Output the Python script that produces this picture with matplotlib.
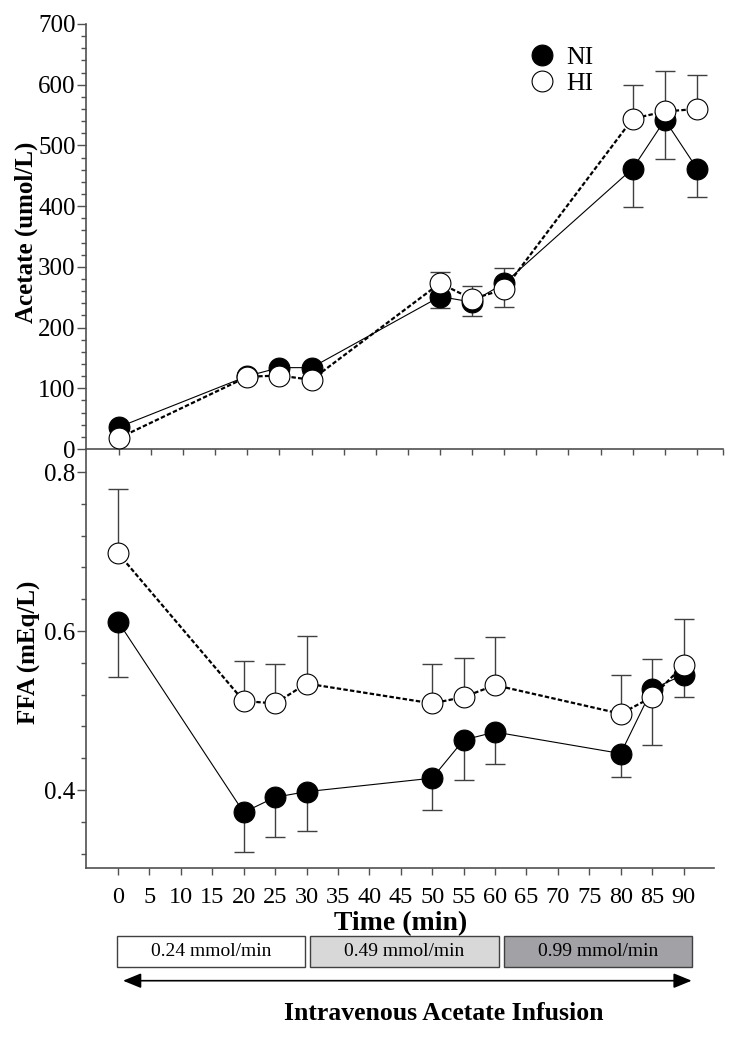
import matplotlib
matplotlib.use('Agg')
import matplotlib.pyplot as plt
from matplotlib.ticker import MultipleLocator, FixedLocator, FixedFormatter
from matplotlib.lines import Line2D
from matplotlib.patches import Rectangle, FancyArrowPatch

plt.rcParams['font.family'] = ['Liberation Serif', 'DejaVu Serif']

# ---------------- data ----------------
time_min = [0, 20, 25, 30, 50, 55, 60, 80, 85, 90]

acetate_ni = [36, 120, 134, 134, 251, 242, 273, 462, 542, 462]
acetate_ni_err = [5, 6, 8, 8, 19, 23, 39, 64, 64, 47]      # lower SE
acetate_hi = [18, 119, 121, 114, 273, 247, 263, 544, 556, 560]
acetate_hi_err = [5, 6, 6, 6, 19, 21, 35, 55, 67, 56]      # upper SE

ffa_ni = [0.612, 0.372, 0.391, 0.398, 0.415, 0.463, 0.473, 0.446, 0.527, 0.545]
ffa_ni_err = [0.070, 0.050, 0.050, 0.050, 0.040, 0.050, 0.040, 0.029, 0.070, 0.028]
ffa_hi = [0.698, 0.512, 0.509, 0.534, 0.509, 0.517, 0.532, 0.496, 0.517, 0.557]
ffa_hi_err = [0.081, 0.050, 0.050, 0.060, 0.049, 0.049, 0.060, 0.049, 0.048, 0.058]

group_labels = ['NI', 'HI']
xtick_values = list(range(0, 100, 5))
xtick_labels = [str(v) for v in range(0, 95, 5)] + ['']
infusion_rates = ['0.24 mmol/min', '0.49 mmol/min', '0.99 mmol/min']
infusion_colors = ['#ffffff', '#d8d8d8', '#a2a2a6']

# ---------------- layout ----------------
W, H = 739, 1038
fig = plt.figure(figsize=(W / 100, H / 100), dpi=100)


def fx(px):
    return px / W


def fy(py):
    return 1 - py / H


ax2 = fig.add_axes([fx(86), fy(868), fx(714.3) - fx(86), fy(449) - fy(868)])
ax1 = fig.add_axes([fx(86), fy(449), fx(723) - fx(86), fy(24) - fy(449)])
ax2.patch.set_visible(False)
ax1.patch.set_visible(False)
ax1.set_zorder(3)

SPINE = '#505050'
ERR = '#404040'
MS = 15


def draw(ax, x, ni, ni_err, hi, hi_err):
    z = [0] * len(x)
    ax.errorbar(x, ni, yerr=[ni_err, z], fmt='none', ecolor=ERR, elinewidth=1.0,
                capsize=7.2, capthick=1.0, zorder=1)
    ax.errorbar(x, hi, yerr=[z, hi_err], fmt='none', ecolor=ERR, elinewidth=1.0,
                capsize=7.2, capthick=1.0, zorder=1)
    ax.plot(x, ni, '-', color='black', lw=0.8, zorder=2)
    ax.plot(x, ni, 'o', ls='none', ms=MS, mfc='black', mec='black', mew=0.8, zorder=3)
    ax.plot(x, hi, '-', color='black', lw=1.6, dashes=(2, 1), zorder=4)
    ax.plot(x, hi, 'o', ls='none', ms=MS, mfc='white', mec='black', mew=0.8, zorder=5)


draw(ax1, time_min, acetate_ni, acetate_ni_err, acetate_hi, acetate_hi_err)
draw(ax2, time_min, ffa_ni, ffa_ni_err, ffa_hi, ffa_hi_err)

for ax in (ax1, ax2):
    for s in ('top', 'right'):
        ax.spines[s].set_visible(False)
    for s in ('left', 'bottom'):
        ax.spines[s].set_color(SPINE)
        ax.spines[s].set_linewidth(1.2)
    ax.tick_params(which='both', color=SPINE, width=1.0, direction='out')
    ax.tick_params(axis='y', which='major', length=6.5, pad=1, labelsize=18)
    ax.tick_params(axis='y', which='minor', length=3.8)

# top panel
ax1.set_xlim(-5.1, 94.05)
ax1.set_ylim(0, 700)
ax1.xaxis.set_major_locator(FixedLocator(list(range(0, 95, 5)) + [94.05]))
ax1.tick_params(axis='x', length=4.5, labelbottom=False)
ax1.yaxis.set_major_locator(MultipleLocator(100))
ax1.yaxis.set_minor_locator(MultipleLocator(20))

# bottom panel
ax2.set_xlim(-5.1, 94.9)
ax2.set_ylim(0.302, 0.829)
ax2.xaxis.set_major_locator(FixedLocator(xtick_values))
ax2.xaxis.set_major_formatter(FixedFormatter(xtick_labels))
ax2.tick_params(axis='x', length=5, pad=9, labelsize=17.5)
ax2.yaxis.set_major_locator(FixedLocator([0.4, 0.6, 0.8]))
ax2.yaxis.set_major_formatter(FixedFormatter(['0.4', '0.6', '0.8']))
ax2.yaxis.set_minor_locator(MultipleLocator(0.04))

# axis titles
fig.text(fx(26), fy(232), 'Acetate (umol/L)', rotation=90, ha='center', va='center',
         fontsize=18, fontweight='bold')
fig.text(fx(29), fy(652), 'FFA (mEq/L)', rotation=90, ha='center', va='center',
         fontsize=18, fontweight='bold')
fig.text(fx(401), fy(924), 'Time (min)', ha='center', va='center',
         fontsize=20, fontweight='bold')

# legend
handles = [Line2D([], [], marker='o', ls='none', ms=MS, mfc='black', mec='black', mew=0.8),
           Line2D([], [], marker='o', ls='none', ms=MS, mfc='white', mec='black', mew=0.8)]
ax1.legend(handles, group_labels, loc='upper left',
           bbox_to_anchor=(fx(529), fy(46)), bbox_transform=fig.transFigure,
           frameon=False, fontsize=18.5, handlelength=1.0, handletextpad=0.45,
           labelspacing=0.12, borderpad=0, borderaxespad=0)

# infusion boxes
box_x = [(116.7, 305), (310, 499), (504, 691.7)]
for (x0, x1), lab, col in zip(box_x, infusion_rates, infusion_colors):
    fig.patches.append(Rectangle((fx(x0), fy(967)), fx(x1) - fx(x0), fy(936) - fy(967),
                                 transform=fig.transFigure, facecolor=col,
                                 edgecolor='#404040', linewidth=1.0))
    fig.text(fx((x0 + x1) / 2), fy(952), lab, ha='center', va='center', fontsize=14)

arrow = FancyArrowPatch((fx(123), fy(980.7)), (fx(691.7), fy(980.7)),
                        transform=fig.transFigure,
                        arrowstyle='<|-|>,head_length=11,head_width=4.5',
                        mutation_scale=1, shrinkA=0, shrinkB=0,
                        color='black', linewidth=1.2)
fig.patches.append(arrow)
fig.text(fx(444), fy(1014), 'Intravenous Acetate Infusion', ha='center', va='center',
         fontsize=18.5, fontweight='bold')

fig.savefig('out.png', dpi=100)
